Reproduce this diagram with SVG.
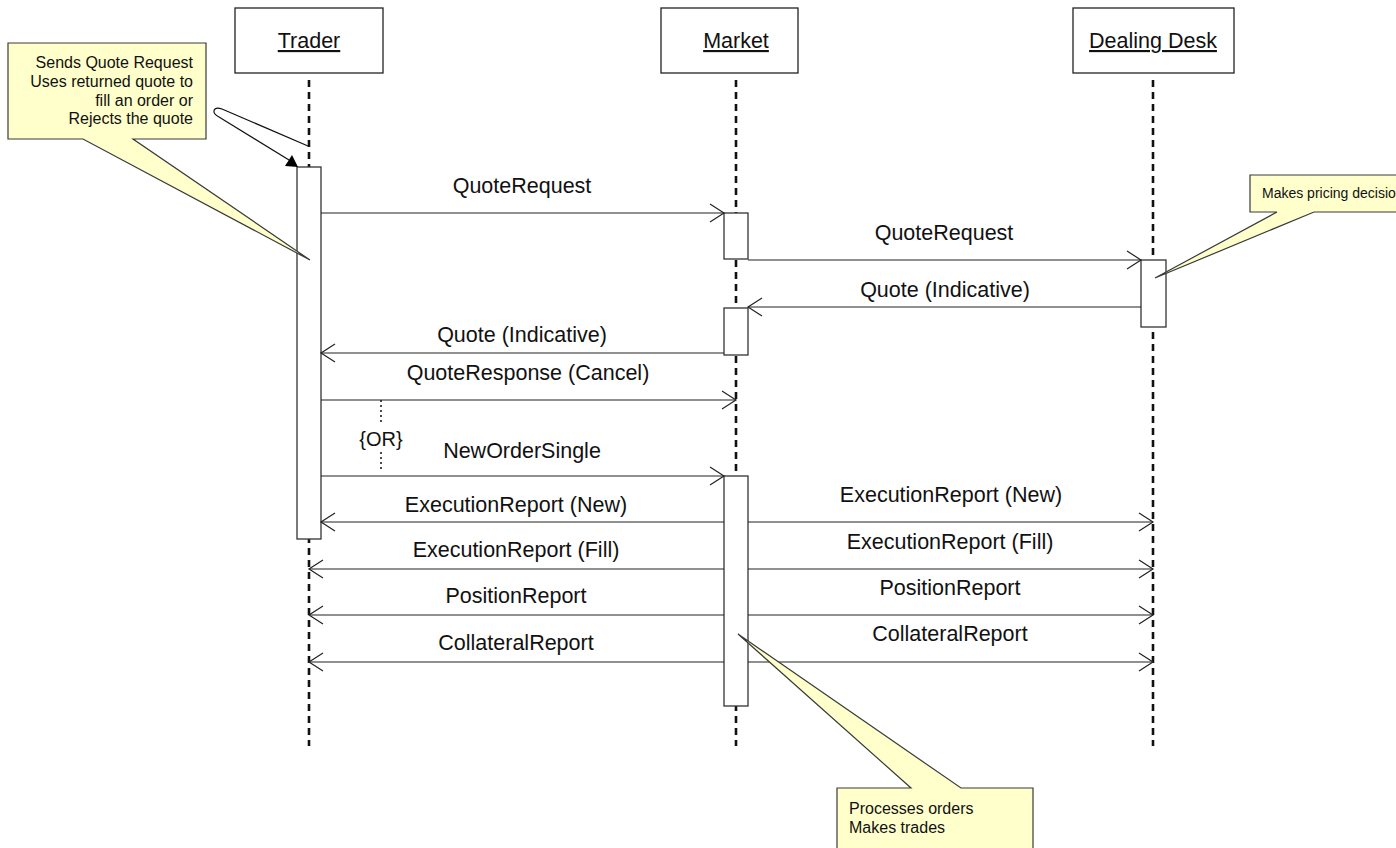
<svg xmlns="http://www.w3.org/2000/svg" width="1396" height="848" viewBox="0 0 1396 848">
<defs>
<marker id="open" markerUnits="userSpaceOnUse" markerWidth="20" markerHeight="22" refX="15" refY="10" orient="auto" overflow="visible">
<path d="M1,1 L15,10 L1,19" fill="none" stroke="#222" stroke-width="1.2"/>
</marker>
</defs>
<style>
text{font-family:"Liberation Sans",Arial,sans-serif;fill:#111}
.hdr{fill:#fff;stroke:#222;stroke-width:1.3}
.hname{font-size:21.5px;text-anchor:middle;text-decoration:underline}
.life{stroke:#111;stroke-width:2.6;stroke-dasharray:7 5;fill:none}
.act{fill:#fff;stroke:#333;stroke-width:1.3}
.msg{stroke:#222;stroke-width:1.2;fill:none;marker-end:url(#open)}
.lbl{font-size:21.5px;text-anchor:middle}
.note{fill:#ffffcc;stroke:#3a3a3a;stroke-width:1.2}
.ntxt{font-size:16px}
</style>

<g id="trader">
<rect class="hdr" x="235" y="8" width="148" height="65"/>
<text class="hname" x="309" y="48">Trader</text>
<line class="life" x1="309" y1="80" x2="309" y2="746"/>
<rect class="act" x="297" y="167" width="24" height="372"/>
</g>

<g id="market">
<rect class="hdr" x="661" y="8" width="137" height="65"/>
<text class="hname" x="736" y="48">Market</text>
<line class="life" x1="736" y1="80" x2="736" y2="746"/>
<rect class="act" x="724" y="213" width="24" height="46"/>
<rect class="act" x="724" y="308" width="24" height="47"/>
<rect class="act" x="724" y="476" width="24" height="230"/>
</g>

<g id="dealing-desk">
<rect class="hdr" x="1073" y="8" width="161" height="65"/>
<text class="hname" x="1153" y="48">Dealing Desk</text>
<line class="life" x1="1153" y1="80" x2="1153" y2="746"/>
<rect class="act" x="1141" y="260" width="25" height="67"/>
</g>

<g id="connectors">
<path d="M308,146 L222,109 C213,106 211,113 219,117 L289,160" fill="none" stroke="#111" stroke-width="1.2"/>
<polygon points="285,166 292,155 298,167" fill="#000"/>

<line class="msg" x1="321" y1="213" x2="724" y2="213"/>
<line class="msg" x1="748" y1="260" x2="1141" y2="260"/>
<line class="msg" x1="1141" y1="307" x2="748" y2="307"/>
<line class="msg" x1="724" y1="353" x2="321" y2="353"/>
<line class="msg" x1="321" y1="400" x2="736" y2="400"/>
<line class="msg" x1="321" y1="476" x2="724" y2="476"/>
<line class="msg" x1="724" y1="522" x2="321" y2="522"/>
<line class="msg" x1="724" y1="569" x2="309" y2="569"/>
<line class="msg" x1="724" y1="615" x2="309" y2="615"/>
<line class="msg" x1="724" y1="662" x2="309" y2="662"/>
<line class="msg" x1="748" y1="522" x2="1153" y2="522"/>
<line class="msg" x1="748" y1="569" x2="1153" y2="569"/>
<line class="msg" x1="748" y1="615" x2="1153" y2="615"/>
<line class="msg" x1="748" y1="662" x2="1153" y2="662"/>

<line x1="381" y1="400" x2="381" y2="424" stroke="#111" stroke-width="1.5" stroke-dasharray="2 3"/>
<line x1="381" y1="452" x2="381" y2="470" stroke="#111" stroke-width="1.5" stroke-dasharray="2 3"/>
<text x="381" y="446" style="font-size:20px;text-anchor:middle">{OR}</text>

<text class="lbl" x="522" y="193">QuoteRequest</text>
<text class="lbl" x="944" y="240">QuoteRequest</text>
<text class="lbl" x="945" y="297">Quote (Indicative)</text>
<text class="lbl" x="522" y="342">Quote (Indicative)</text>
<text class="lbl" x="528" y="380">QuoteResponse (Cancel)</text>
<text class="lbl" x="522" y="458">NewOrderSingle</text>
<text class="lbl" x="516" y="512">ExecutionReport (New)</text>
<text class="lbl" x="516" y="557">ExecutionReport (Fill)</text>
<text class="lbl" x="516" y="603">PositionReport</text>
<text class="lbl" x="516" y="650">CollateralReport</text>
<text class="lbl" x="951" y="502">ExecutionReport (New)</text>
<text class="lbl" x="950" y="549">ExecutionReport (Fill)</text>
<text class="lbl" x="950" y="595">PositionReport</text>
<text class="lbl" x="950" y="641">CollateralReport</text>
</g>

<g id="note-trader">
<polygon class="note" points="8,43 206,43 206,139 133,139 310,260 83,139 8,139"/>
<text class="ntxt" x="193" y="68" text-anchor="end">Sends Quote Request</text>
<text class="ntxt" x="193" y="87" text-anchor="end">Uses returned quote to</text>
<text class="ntxt" x="193" y="106" text-anchor="end">fill an order or</text>
<text class="ntxt" x="193" y="124" text-anchor="end">Rejects the quote</text>
</g>

<g id="note-dealing">
<polygon class="note" points="1250,175 1400,175 1400,212 1314,212 1155,278 1277,212 1250,212"/>
<text class="ntxt" x="1262" y="198" style="font-size:14px">Makes pricing decisio</text>
</g>

<g id="note-market">
<polygon class="note" points="837,788 911,788 738,634 961,788 1033,788 1033,852 837,852"/>
<text class="ntxt" x="849" y="814">Processes orders</text>
<text class="ntxt" x="849" y="833">Makes trades</text>
</g>
</svg>
